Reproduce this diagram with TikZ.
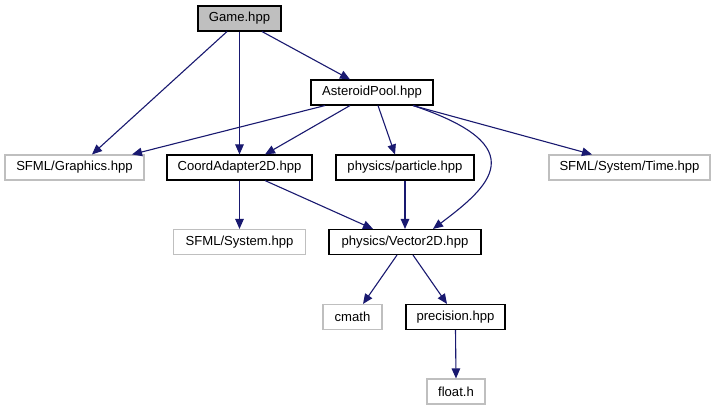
\documentclass[tikz,border=0pt]{standalone}
\usepackage{fontspec}
\setmainfont{Liberation Sans}
\usetikzlibrary{arrows.meta}
\definecolor{edgec}{HTML}{191970}
\definecolor{extc}{HTML}{BFBFBF}
\begin{document}
\begin{tikzpicture}[x=1pt,y=-1pt,
  every node/.style={font=\fontsize{13.1}{15}\selectfont, inner sep=0pt, minimum height=25pt},
  inbox/.style={draw=black, line width=1.1pt, fill=white},
  rootbox/.style={draw=black, line width=1.1pt, fill=extc},
  extbox/.style={draw=extc, line width=1.1pt, fill=white},
  dep/.style={draw=edgec, line width=1.1pt, -{Triangle[length=10pt,width=8.5pt]}}]
\useasboundingbox (0,0) rectangle (719,411);
\fill[white] (0,0) rectangle (719,411);
\node[rootbox, minimum width=83pt] (game) at (239.5,18.5) {Game.hpp};
\node[inbox, minimum width=122pt] (pool) at (372,92.5) {AsteroidPool.hpp};
\node[extbox, minimum width=139pt] (graphics) at (74.5,167.5) {SFML/Graphics.hpp};
\node[inbox, minimum width=145pt] (coord) at (239.5,167.5) {CoordAdapter2D.hpp};
\node[inbox, minimum width=138pt] (particle) at (405,167.5) {physics/particle.hpp};
\node[extbox, minimum width=161pt] (time) at (629.5,167.5) {SFML/System/Time.hpp};
\node[extbox, minimum width=132pt] (system) at (239.5,242) {SFML/System.hpp};
\node[inbox, minimum width=152pt] (vector) at (405,242) {physics/Vector2D.hpp};
\node[extbox, minimum width=59pt] (cmath) at (352.5,317) {cmath};
\node[inbox, minimum width=99pt] (precision) at (455.5,317) {precision.hpp};
\node[extbox, minimum width=58pt] (float) at (456,391.5) {float.h};
\draw[dep] ([xshift=-12.5pt]game.south) -- ([xshift=17.5pt]graphics.north);
\draw[dep] (game.south) -- (coord.north);
\draw[dep] ([xshift=22.5pt]game.south) -- ([xshift=-22pt]pool.north);
\draw[dep] ([xshift=-47pt]pool.south) -- ([xshift=57.5pt]graphics.north);
\draw[dep] ([xshift=-22pt]pool.south) -- ([xshift=25.5pt]coord.north);
\draw[dep] ([xshift=6pt]pool.south) -- ([xshift=-10pt]particle.north);
\draw[dep] ([xshift=41pt]pool.south) .. controls +(123,41) and +(56,-42) .. ([xshift=28pt]vector.north);
\draw[dep] ([xshift=41pt]pool.south) -- ([xshift=-37.5pt]time.north);
\draw[dep] (coord.south) -- (system.north);
\draw[dep] ([xshift=25.5pt]coord.south) -- ([xshift=-32pt]vector.north);
\draw[dep] (particle.south) -- (vector.north);
\draw[dep] ([xshift=-8pt]vector.south) -- ([xshift=10.5pt]cmath.north);
\draw[dep] ([xshift=8pt]vector.south) -- ([xshift=-8.5pt]precision.north);
\draw[dep] (precision.south) -- (float.north);
\end{tikzpicture}
\end{document}
